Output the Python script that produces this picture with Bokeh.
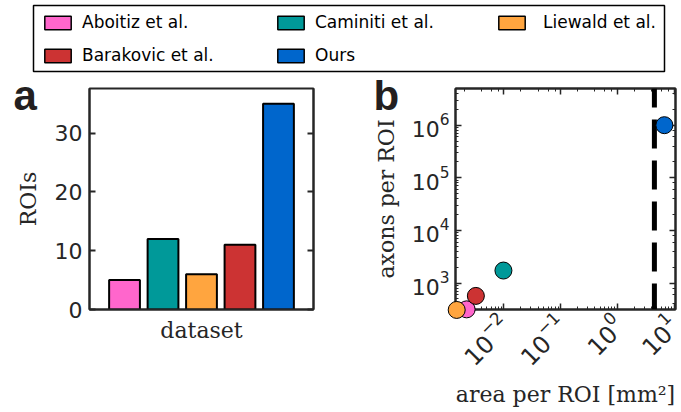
import numpy as np
from bokeh.plotting import figure
from bokeh.layouts import column, row
from bokeh.models import (Legend, LegendItem, Span, LinearAxis, LogAxis,
                          Range1d, ColumnDataSource, LogTicker, CustomJSTickFormatter)
from bokeh.core.properties import value
from bokeh.embed import file_html
from bokeh.resources import INLINE

# ---------------- data ----------------
datasets = ["Aboitiz et al.", "Caminiti et al.", "Liewald et al.", "Barakovic et al.", "Ours"]
colors = ["#ff66cc", "#009999", "#ffa53f", "#cc3333", "#0066cc"]
rois = [5, 12, 6, 11, 35]
area_per_roi = [0.0022, 0.0098, 0.00147, 0.0032, 6.75]      # mm^2
axons_per_roi = [316, 1727, 308, 569, 1.0e6]
roi_ticks = [0, 10, 20, 30]
area_limit = 4.5
legend_columns = [["Aboitiz et al.", "Barakovic et al."],
                  ["Caminiti et al.", "Ours"],
                  ["Liewald et al."]]

AX = "#262626"
TICK_FONT = "DejaVu Sans"
LABEL_FONT = "DejaVu Serif"

positions = list(range(1, len(datasets) + 1))
src = ColumnDataSource(dict(pos=positions, dataset=datasets, color=colors, rois=rois,
                            area=area_per_roi, axons=axons_per_roi))
index_of = {n: i for i, n in enumerate(datasets)}


def blank():
    return CustomJSTickFormatter(code="return ''")


# ---------------- legend strip ----------------
lf = figure(width=681, height=80, output_backend="svg", toolbar_location=None,
            x_axis_location=None, y_axis_location=None,
            x_range=Range1d(-3, -2), y_range=Range1d(-3, -2),
            min_border_left=33, min_border_right=17, min_border_top=5, min_border_bottom=9)
lf.xgrid.visible = False
lf.ygrid.visible = False
lf.outline_line_color = "black"
lf.outline_line_width = 1.5
# legend swatches (bars fall outside the strip's ranges, only the legend shows them)
leg_r = lf.vbar(x="pos", top="rois", width=0.8, fill_color="color", line_color="black",
                line_width=1.5, source=src)
for names, x0, so in zip(legend_columns, [8, 241, 462], [8, 8, 15]):
    vy = 6 if len(names) == 2 else 39
    leg = Legend(items=[LegendItem(label=n, renderers=[leg_r], index=index_of[n]) for n in names],
                 location=(x0, vy), orientation="vertical", padding=0, margin=0,
                 spacing=13, glyph_width=33, glyph_height=17, label_standoff=so,
                 label_text_font=TICK_FONT, label_text_font_size="17px",
                 label_text_color="black", border_line_color=None,
                 background_fill_alpha=0)
    lf.add_layout(leg, "center")

# ---------------- panel a ----------------
A_L, A_R, A_T, A_B, A_W, A_H = 89, 27, 5, 103, 340, 332
a_x0, a_x1, a_y0, a_y1 = 0.09, 5.91, 0, 37.6
pa = figure(width=A_W, height=A_H, output_backend="svg", toolbar_location=None,
            x_range=Range1d(a_x0, a_x1), y_range=Range1d(a_y0, a_y1),
            min_border_left=A_L, min_border_right=A_R, min_border_top=A_T, min_border_bottom=A_B)
pa.vbar(x="pos", top="rois", width=0.8, fill_color="color", line_color="black",
        line_width=2, source=src)
pa.xgrid.visible = False
pa.ygrid.visible = False
pa.outline_line_color = AX
pa.outline_line_width = 2

xa = pa.xaxis[0]
xa.ticker = []
xa.major_tick_in = 0
xa.major_tick_out = 0
xa.minor_tick_in = 0
xa.minor_tick_out = 0
xa.formatter = blank()
xa.axis_line_color = AX
xa.axis_line_width = 2
xa.axis_label = "dataset"
xa.axis_label_text_font = LABEL_FONT
xa.axis_label_text_font_size = "22px"
xa.axis_label_text_font_style = "normal"
xa.axis_label_text_color = AX
xa.axis_label_standoff = 8

ya = pa.yaxis[0]
ya.ticker = roi_ticks
ya.major_tick_in = 6
ya.major_tick_out = 0
ya.minor_tick_in = 0
ya.minor_tick_out = 0
ya.axis_line_color = AX
ya.axis_line_width = 2
ya.major_tick_line_color = AX
ya.major_tick_line_width = 2
ya.major_label_text_font = TICK_FONT
ya.major_label_text_font_size = "22px"
ya.major_label_text_color = AX
ya.major_label_standoff = 7
ya.axis_label = "ROIs"
ya.axis_label_text_font = LABEL_FONT
ya.axis_label_text_font_size = "22px"
ya.axis_label_text_font_style = "normal"
ya.axis_label_text_color = AX
ya.axis_label_standoff = 11

ra = LinearAxis(ticker=roi_ticks, formatter=blank(),
                major_tick_in=6, major_tick_out=0, minor_tick_in=0, minor_tick_out=0,
                axis_line_color=AX, axis_line_width=2, major_tick_line_color=AX,
                major_tick_line_width=2, major_label_standoff=0)
pa.add_layout(ra, "right")

# panel letter "a" (placed by pixel offset from the frame's bottom-left corner)
a_fw, a_fh = A_W - A_L - A_R, A_H - A_T - A_B
pa.text(x=[a_x0 + (-76) * (a_x1 - a_x0) / a_fw], y=[a_y0 + 217 * (a_y1 - a_y0) / a_fh],
        text=["a"], text_font=value("Liberation Sans"), text_font_style="bold",
        text_font_size=value("42px"), text_color="#231f20", text_baseline="alphabetic",
        level="overlay")

# ---------------- panel b ----------------
B_L, B_R, B_T, B_B, B_W, B_H = 115, 6, 8, 101, 341, 332
b_x0, b_x1, b_y0, b_y1 = 0.0014, 10.6, 314, 4.98e6
pb = figure(width=B_W, height=B_H, output_backend="svg", toolbar_location=None,
            x_axis_type="log", y_axis_type="log",
            x_range=Range1d(b_x0, b_x1), y_range=Range1d(b_y0, b_y1),
            min_border_left=B_L, min_border_right=B_R, min_border_top=B_T, min_border_bottom=B_B)
pb.xgrid.visible = False
pb.ygrid.visible = False
pb.outline_line_color = AX
pb.outline_line_width = 2

pb.add_layout(Span(location=area_limit, dimension="height", line_color="black",
                   line_width=5, line_dash="29 12", line_dash_offset=10))
pb.scatter(x="area", y="axons", size=17, fill_color="color", line_color="black",
           line_width=1, source=src, level="overlay")


def style_log(ax, size="22px"):
    ax.major_tick_in = 6
    ax.major_tick_out = 0
    ax.minor_tick_in = 3
    ax.minor_tick_out = 0
    ax.axis_line_color = AX
    ax.axis_line_width = 2
    ax.major_tick_line_color = AX
    ax.major_tick_line_width = 1.5
    ax.minor_tick_line_color = AX
    ax.minor_tick_line_width = 1
    ax.major_label_text_font = TICK_FONT
    ax.major_label_text_color = AX
    ax.major_label_text_font_size = size


bx = pb.xaxis[0]
style_log(bx, "24px")
bx.major_label_orientation = np.pi / 4
bx.major_label_standoff = 9
bx.axis_label = "area per ROI [mm²]"
bx.axis_label_text_font = LABEL_FONT
bx.axis_label_text_font_size = "22px"
bx.axis_label_text_font_style = "normal"
bx.axis_label_text_color = AX
bx.axis_label_standoff = 2

by = pb.yaxis[0]
style_log(by)
by.major_label_standoff = 6
by.axis_label = "axons per ROI"
by.axis_label_text_font = LABEL_FONT
by.axis_label_text_font_size = "22px"
by.axis_label_text_font_style = "normal"
by.axis_label_text_color = AX
by.axis_label_standoff = 10

top_ax = LogAxis(ticker=LogTicker(), formatter=blank(), major_label_standoff=0)
style_log(top_ax)
pb.add_layout(top_ax, "above")
right_ax = LogAxis(ticker=LogTicker(), formatter=blank(), major_label_standoff=0)
style_log(right_ax)
pb.add_layout(right_ax, "right")

# panel letter "b"
b_fw, b_fh = B_W - B_L - B_R, B_H - B_T - B_B
lx0, lx1, ly0, ly1 = np.log10([b_x0, b_x1, b_y0, b_y1])
pb.text(x=[10 ** (lx0 + (-82) * (lx1 - lx0) / b_fw)], y=[10 ** (ly0 + 216 * (ly1 - ly0) / b_fh)],
        text=["b"], text_font=value("Liberation Sans"), text_font_style="bold",
        text_font_size=value("42px"), text_color="#231f20", text_baseline="alphabetic",
        level="overlay")

layout = column(lf, row(pa, pb, spacing=0), spacing=0)
open("out.html", "w").write(file_html(layout, INLINE))
